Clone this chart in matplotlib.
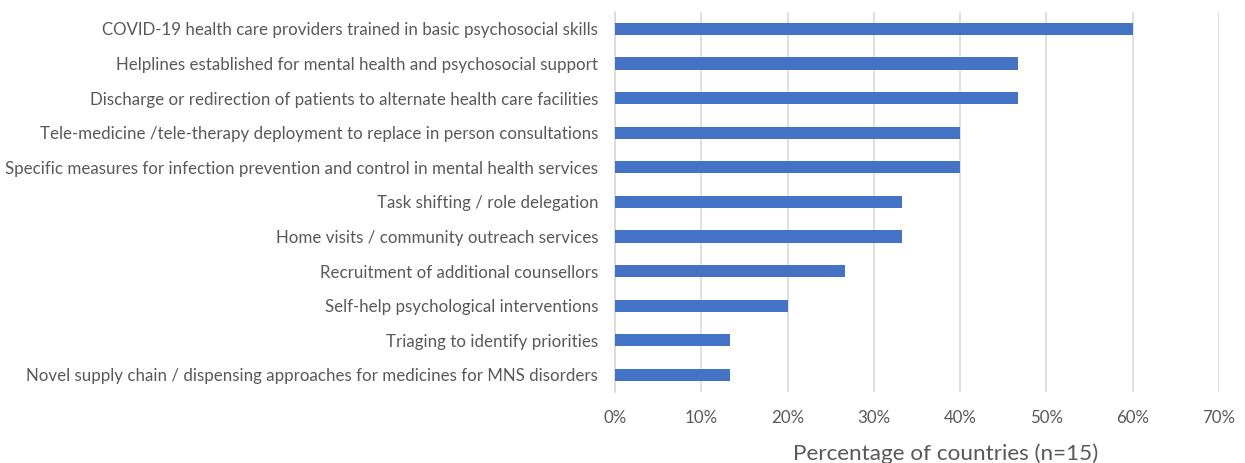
import matplotlib.pyplot as plt
from matplotlib.ticker import PercentFormatter

# categories top to bottom
categories = [
    "COVID-19 health care providers trained in basic psychosocial skills",
    "Helplines established for mental health and psychosocial support",
    "Discharge or redirection of patients to alternate health care facilities",
    "Tele-medicine /tele-therapy deployment to replace in person consultations",
    "Specific measures for infection prevention and control in mental health services",
    "Task shifting / role delegation",
    "Home visits / community outreach services",
    "Recruitment of additional counsellors",
    "Self-help psychological interventions",
    "Triaging to identify priorities",
    "Novel supply chain / dispensing approaches for medicines for MNS disorders",
]
# share of countries (n=15)
values = [0.600, 0.467, 0.467, 0.400, 0.400, 0.333, 0.333, 0.267, 0.200, 0.133, 0.133]
x_ticks = [0, 0.1, 0.2, 0.3, 0.4, 0.5, 0.6, 0.7]

plt.rcParams['font.family'] = ['Lato', 'DejaVu Sans']

fig = plt.figure(figsize=(12.45, 4.63), dpi=100)
ax = fig.add_axes([0.494, 0.153, 0.485, 0.822])

y = list(range(len(categories)))[::-1]
ax.barh(y, values, height=0.35, color='#4472C4', zorder=3)

ax.set_ylim(-0.5, len(categories) - 0.5)
ax.set_yticks(y)
ax.set_yticklabels(categories, fontsize=12.2, color='#595959')

ax.set_xlim(0, 0.7)
ax.set_xticks(x_ticks)
ax.xaxis.set_major_formatter(PercentFormatter(1.0, decimals=0))
ax.tick_params(axis='x', labelsize=12.2, labelcolor='#595959', length=0, pad=13)
ax.tick_params(axis='y', length=0, pad=12)
ax.grid(axis='x', color='#D9D9D9', linewidth=1.2, zorder=0)

for s in ['top', 'right', 'bottom']:
    ax.spines[s].set_visible(False)
ax.spines['left'].set_color('#D9D9D9')
ax.spines['left'].set_linewidth(1.2)

ax.set_xlabel("Percentage of countries (n=15)", fontsize=16.2, color='#595959')
ax.xaxis.set_label_coords(0.548, -0.135)

fig.savefig('out.png', dpi=100)
